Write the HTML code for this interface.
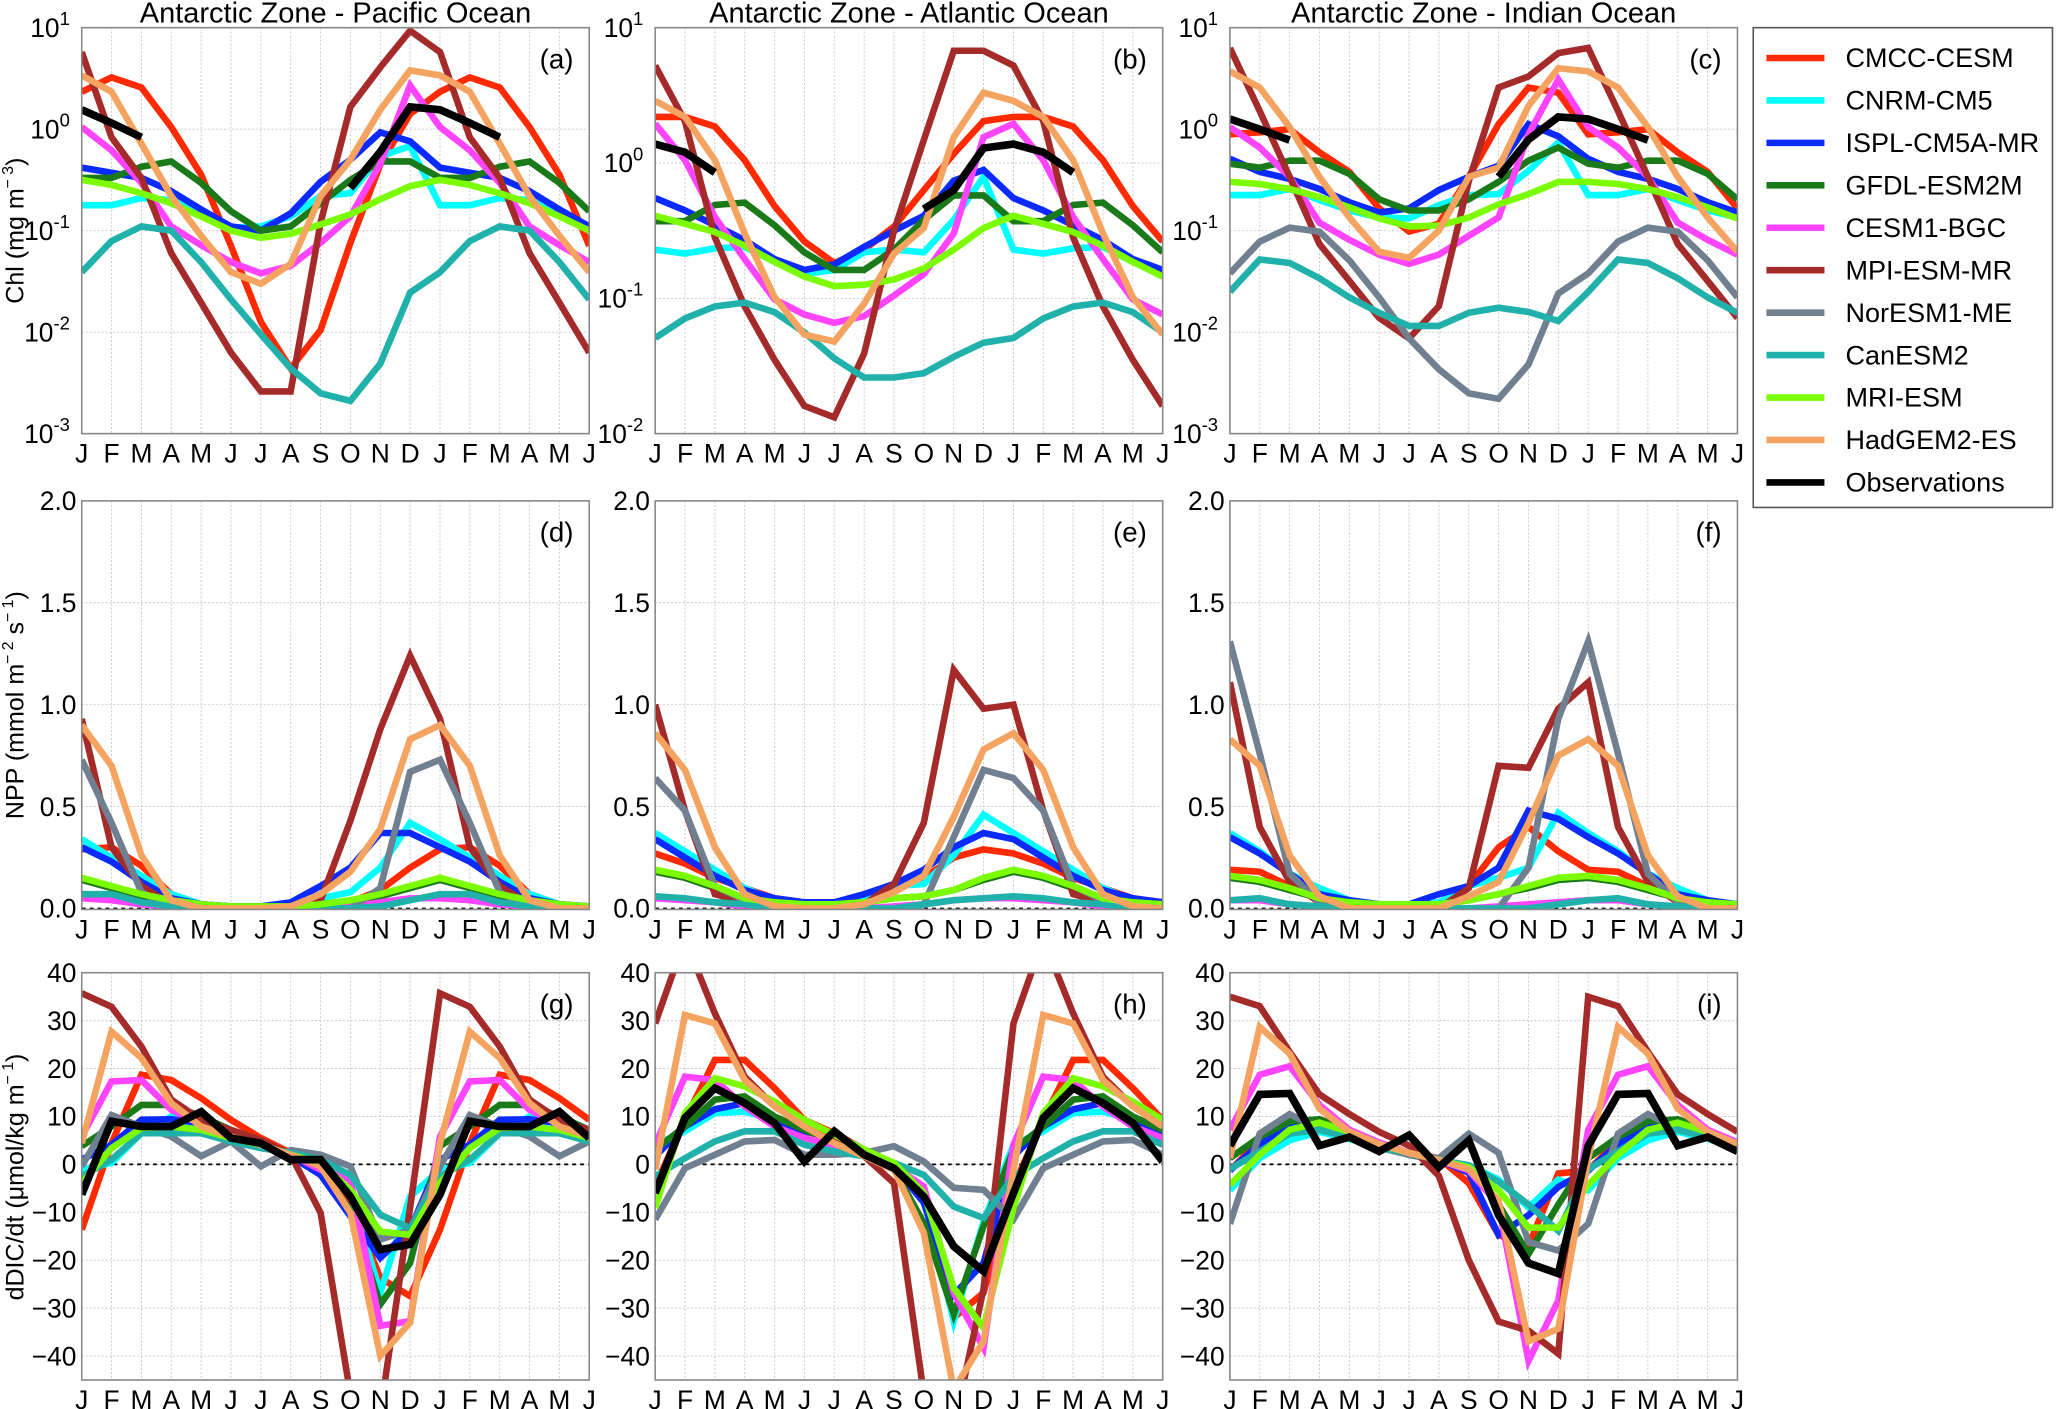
<!DOCTYPE html>
<html><head><meta charset="utf-8"><title>Antarctic Zone seasonal cycles</title>
<style>
html,body{margin:0;padding:0;background:#fff;}
svg{display:block;font-family:"Liberation Sans","DejaVu Sans",sans-serif;}
</style></head>
<body>
<svg id="fig" width="2067" height="1409" viewBox="0 0 1568 1069" preserveAspectRatio="none" xmlns="http://www.w3.org/2000/svg"></svg>
<script>
const months = ["J","F","M","A","M","J","J","A","S","O","N","D","J","F","M","A","M","J"];
const models = ["CMCC-CESM","CNRM-CM5","ISPL-CM5A-MR","GFDL-ESM2M","CESM1-BGC","MPI-ESM-MR","NorESM1-ME","CanESM2","MRI-ESM","HadGEM2-ES","Observations"];
const N = null;

// Chl (mg m-3), Jan..Dec, model order as above
const chlPacific = [
 [2.34,3.24,2.57,1.05,.355,.071,.0126,.0044,.0105,.076,.447,1.41],
 [.178,.178,.209,.2,.158,.107,.11,.138,.219,.234,.54,.68],
 [.417,.372,.331,.245,.162,.11,.1,.148,.302,.5,.93,.76],
 [.331,.331,.427,.48,.295,.155,.1,.11,.186,.316,.48,.48],
 [1.05,.62,.295,.11,.072,.049,.038,.045,.076,.138,.457,2.69],
 [5.75,.83,.331,.06,.0195,.0063,.0026,.0026,.12,1.66,4.07,9.33],
 [N,N,N,N,N,N,N,N,N,N,N,N],
 [.039,.079,.11,.1,.049,.021,.0095,.0044,.0025,.0021,.0049,.0245],
 [.316,.282,.234,.186,.138,.1,.085,.093,.115,.145,.204,.275],
 [3.39,2.34,.72,.219,.089,.039,.03,.047,.219,.5,1.55,3.8],
 [1.55,1.15,.83,N,N,N,N,N,N,.263,.6,1.66]
];
const chlAtlantic = [
 [2.19,2.19,1.86,1.05,.48,.263,.182,.229,.339,.63,1.17,2.04],
 [.229,.214,.234,.24,.186,.151,.162,.219,.229,.219,.38,.79],
 [.55,.447,.347,.269,.195,.162,.178,.24,.316,.407,.74,.89],
 [.372,.372,.49,.51,.347,.219,.162,.162,.229,.38,.575,.575],
 [1.95,1.05,.398,.195,.098,.076,.066,.074,.105,.151,.302,1.55],
 [5.25,2.04,.282,.087,.035,.016,.0132,.039,.316,1.48,6.76,6.76],
 [N,N,N,N,N,N,N,N,N,N,N,N],
 [.051,.071,.087,.093,.079,.056,.036,.026,.026,.028,.037,.047],
 [.407,.355,.309,.245,.186,.145,.123,.126,.138,.166,.229,.331],
 [2.88,2.19,1.05,.302,.102,.054,.048,.091,.214,.331,1.55,3.31],
 [1.38,1.2,.85,N,N,N,N,N,N,.457,.63,1.29]
];
const chlIndian = [
 [.89,.93,1.0,.59,.38,.166,.098,.117,.339,1.12,2.57,2.29],
 [.224,.224,.257,.2,.158,.135,.132,.178,.224,.229,.389,.74],
 [.51,.38,.324,.257,.191,.151,.166,.251,.339,.437,1.12,.85],
 [.457,.417,.49,.49,.363,.204,.158,.158,.204,.302,.49,.66],
 [1.05,.66,.339,.12,.081,.058,.047,.058,.089,.135,.89,3.09],
 [6.31,1.51,.339,.074,.032,.0138,.0087,.018,.309,2.57,3.31,5.62],
 [.038,.078,.107,.098,.051,.022,.0087,.0043,.0025,.0022,.0048,.024],
 [.025,.052,.048,.034,.022,.0155,.0115,.0115,.0155,.0174,.0158,.0129],
 [.302,.288,.257,.214,.17,.132,.11,.112,.135,.182,.229,.302],
 [3.72,2.57,1.05,.339,.135,.062,.054,.1,.339,.417,1.7,3.98],
 [1.26,1.0,.78,N,N,N,N,N,N,.339,.79,1.32]
];
// NPP (mmol m-2 s-1)
const nppPacific = [
 [.29,.30,.21,.07,.02,.01,.01,.01,.02,.03,.09,.2],
 [.34,.25,.16,.07,.02,.01,.01,.01,.05,.08,.2,.42],
 [.30,.23,.13,.05,.02,.01,.01,.03,.11,.2,.37,.37],
 [.14,.1,.06,.03,.01,.01,.01,.01,.02,.03,.06,.1],
 [.05,.04,.02,.01,0,0,0,0,0,.01,.03,.05],
 [.93,.3,.11,.02,.01,0,0,0,.04,.43,.88,1.24],
 [.73,.42,.08,0,-.05,-.1,-.1,-.1,-.05,0,.1,.67],
 [.07,.07,.03,.01,0,0,0,0,0,0,.01,.04],
 [.15,.11,.07,.04,.02,.01,.01,.01,.02,.04,.07,.11],
 [.9,.7,.26,.04,0,0,0,.01,.07,.18,.39,.83],
 [N,N,N,N,N,N,N,N,N,N,N,N]
];
const nppAtlantic = [
 [.27,.22,.15,.1,.05,.03,.02,.03,.09,.15,.25,.29],
 [.37,.28,.19,.1,.04,.03,.03,.05,.11,.12,.26,.46],
 [.34,.25,.16,.09,.05,.03,.03,.07,.12,.19,.30,.37],
 [.18,.15,.1,.05,.03,.02,.02,.03,.05,.06,.09,.14],
 [.05,.04,.03,.01,0,0,0,0,.01,.02,.04,.05],
 [1.0,.48,.07,.03,0,0,0,.02,.12,.42,1.17,.98],
 [.64,.48,.11,.04,-.05,-.1,-.1,-.1,-.05,.02,.35,.68],
 [.06,.05,.03,.02,0,0,0,0,0,.02,.04,.05],
 [.19,.16,.11,.05,.03,.02,.02,.03,.05,.06,.09,.15],
 [.86,.68,.3,.07,.01,0,0,.02,.08,.16,.45,.78],
 [N,N,N,N,N,N,N,N,N,N,N,N]
];
const nppIndian = [
 [.19,.18,.11,.05,.03,.02,.02,.02,.11,.30,.40,.28],
 [.37,.28,.17,.1,.04,.02,.02,.03,.11,.15,.2,.47],
 [.35,.27,.17,.07,.04,.02,.02,.07,.11,.2,.48,.44],
 [.15,.13,.09,.05,.03,.02,.02,.02,.04,.07,.1,.14],
 [.04,.04,.02,.01,0,0,0,0,0,.01,.02,.03],
 [1.11,.4,.13,.03,0,0,0,0,.1,.70,.69,.98],
 [1.31,.76,.17,.03,-.05,-.1,-.1,-.1,-.05,0,.2,.93],
 [.04,.05,.02,.01,0,0,0,0,0,0,0,.02],
 [.16,.14,.1,.05,.03,.02,.02,.02,.04,.07,.11,.15],
 [.83,.70,.26,.06,0,0,0,0,.06,.13,.42,.75],
 [N,N,N,N,N,N,N,N,N,N,N,N]
];
// dDIC/dt (umol/kg m-1)
const dicPacific = [
 [-13.6,4.4,18.7,17.6,13.8,9.3,5.5,2.4,.3,-8,-23.7,-27.5],
 [-1.1,.3,6.5,10,7.6,5.8,4.1,2,.3,-6,-26.8,-6.7],
 [1,4.1,9.3,9.4,8.6,5.8,4.1,1.7,-2.2,-10.8,-19.5,-13.6],
 [3.8,7.9,12.4,12.4,10,7.2,4.4,2,-.4,-9.8,-29.2,-20.6],
 [5.8,17.3,17.6,11.4,8.3,6.2,4.1,2,-1.1,-3.2,-33.7,-32.7],
 [35.7,32.9,24.6,13.5,9.3,7.2,5.1,2,-10.1,-48,-52,-9],
 [-.4,10.3,7.9,5.8,1.7,4.8,-.4,3,2,-.4,-15.7,-13.6],
 [-2.5,1,6.5,6.5,6.5,4.8,3.4,2.4,1,-2.2,-10.5,-13.3],
 [-3.9,3.4,7.6,7.9,7.2,5.5,4.1,2,.3,-5.3,-14,-14.7],
 [4.4,27.7,22.2,12.8,7.9,5.8,4.1,2,-.4,-10.1,-40,-33],
 [-6.3,9,7.9,7.9,11,5.5,4.4,1,1,-6.7,-17.8,-16.7]
];
const dicAtlantic = [
 [-4.6,9.3,21.8,21.8,15.9,9.3,6.5,3.1,-.4,-6.7,-32,-26.8],
 [4.1,6.9,10.7,11,9.3,5.8,3.8,1.7,-.4,-6.7,-32.7,-12],
 [1.7,7.9,11.5,12.8,9.3,6.5,4.1,1.7,-.4,-8,-27.2,-20.6],
 [3.1,7.9,13.5,14.2,10,7.2,4.4,1.7,-1.1,-12.2,-31.3,-12.9],
 [4.1,18.3,17.6,12.1,7.9,5.5,4.1,1.7,-.4,-4.6,-26.8,-38.3],
 [29.4,47,31.5,18.3,12.1,8.3,5.1,1.7,-3.9,-48,-55,-26],
 [-11.5,-.8,2,4.8,5.1,2,2,2.4,3.8,.6,-4.9,-5.3],
 [-2.5,1.3,4.8,6.9,6.9,4.1,2.7,1.7,.3,-2.2,-8.8,-11.2],
 [-9.1,10.7,18,16.3,13.1,9.3,6.2,3.1,.3,-6,-25.8,-34.1],
 [-1.1,31.2,29.4,17.6,12.1,7.9,4.4,1.7,-1.1,-14.3,-47,-36.9],
 [-6,9.7,15.9,12.8,8.6,.6,6.9,2,-.8,-6.7,-17.1,-22.3]
];
const dicIndian = [
 [-1.3,5,8,9.4,7.2,3.9,2.4,1.3,-3.9,-14.7,-17,-1.9],
 [-5.4,1.3,5,6.8,5.3,3.5,2,.9,-.2,-3.2,-9,-3.2],
 [-1.3,4.2,8.3,8.3,6.4,4.2,2,.9,-1.7,-14.7,-10.6,-4.7],
 [1.3,5.7,9,9.4,7.2,3.9,2,.9,-1,-8.4,-18.7,-8.4],
 [7.2,18.7,20.5,12.4,7.2,4.6,2.4,.9,-1.3,-8.4,-41,-28.4],
 [35,33,23.5,14.6,10.5,6.8,3.9,-2.4,-20,-32.8,-34.7,-39.5],
 [-12.4,6.4,10.5,7.2,5.7,3.5,2,1.3,6.4,2.4,-16.2,-18],
 [-1,2.7,6.4,7.2,5.7,3.5,2.4,.9,-.2,-3.6,-8.4,-13.9],
 [-4.3,2,7.2,8.7,6.8,4.2,2.4,.9,-.6,-5.4,-13.2,-13.2],
 [1.3,28.7,23.1,11.6,6.8,4.2,2.4,.9,-1,-7.6,-36.9,-34.3],
 [3.9,14.6,14.8,3.9,5.7,2.7,6.1,-.6,5,-10.6,-20.6,-22.8]
];
const chlTicksA = [1,0,-1,-2,-3];
const chlTicksB = [1,0,-1,-2];
const nppTicks = ["2.0","1.5","1.0","0.5","0.0"];
const dicTicks = [40,30,20,10,0,-10,-20,-30,-40];
</script>
<script>
const svg = document.getElementById('fig');
const NS = 'http://www.w3.org/2000/svg';
const colors = ["#ff2a00","#00ffff","#0a2aff","#1a7a1a","#ff44ff","#a52a2a","#708090","#20b2aa","#7cfc00","#f4a460","#000000"];
const keys = ["cmcc-cesm","cnrm-cm5","ispl-cm5a-mr","gfdl-esm2m","cesm1-bgc","mpi-esm-mr","noresm1-me","canesm2","mri-esm","hadgem2-es","observations"];
function mk(tag, attrs, parent){const e=document.createElementNS(NS,tag);for(const k in attrs)e.setAttribute(k,attrs[k]);(parent||svg).appendChild(e);return e;}

const cols=[[62,447],[497,882],[933,1318]];
const rows=[[21,329],[380,690],[738,1047]];
const titles=["Antarctic Zone - Pacific Ocean","Antarctic Zone - Atlantic Ocean","Antarctic Zone - Indian Ocean"];
const letters=[["(a)","(b)","(c)"],["(d)","(e)","(f)"],["(g)","(h)","(i)"]];
const allData=[[chlPacific,chlAtlantic,chlIndian],[nppPacific,nppAtlantic,nppIndian],[dicPacific,dicAtlantic,dicIndian]];

function panel(r,c){
  const [x0,x1]=cols[c],[y0,y1]=rows[r];
  const g=mk('g',{});
  
  
  const xs=i=>x0+(x1-x0)*i/17;
  let yf, yticks;
  if(r===0){
    const ex=(c===1)?chlTicksB:chlTicksA;
    const hi=ex[0],lo=ex[ex.length-1];
    yf=v=>y0+(hi-Math.log10(v))/(hi-lo)*(y1-y0);
    yticks=ex.map(e=>({v:Math.pow(10,e),e:e}));
  } else if(r===1){
    yf=v=>y1-(v+0.005)/(2.005)*(y1-y0);
    yticks=nppTicks.map(t=>({v:parseFloat(t),t:t}));
  } else {
    yf=v=>y1-(v+45)/85*(y1-y0);
    yticks=dicTicks.map(t=>({v:t,t:(t<0?'\u2212'+(-t):String(t))}));
  }
  for(let i=1;i<17;i++){const l=mk('line',{x1:xs(i),x2:xs(i),y1:y0,y2:y1,stroke:'#c8c8c8','stroke-width':0.7,'stroke-dasharray':'1.5,1.5'},g);}
  yticks.forEach(t=>{const y=yf(t.v);if(y>y0+1&&y<y1-1){const l=mk('line',{x1:x0,x2:x1,y1:y,y2:y,stroke:'#c8c8c8','stroke-width':0.7,'stroke-dasharray':'1.5,1.5'},g);}});
  if(r>0){const z=mk('line',{x1:x0,x2:x1,y1:yf(0),y2:yf(0),stroke:'#000','stroke-width':1.3,'stroke-dasharray':'3,3'},g);}
  yticks.forEach(t=>{
    const y=yf(t.v);
    if(r===0){
      const tx=mk('text',{x:x0-9,y:y+7,'font-size':20,'text-anchor':'end',fill:'#000'},g);
      
      tx.appendChild(document.createTextNode('10'));
      const sp=mk('tspan',{'font-size':14,dy:-9},tx);sp.textContent=String(t.e);
    } else {
      const tx=mk('text',{x:x0-4,y:y+7,'font-size':20,'text-anchor':'end',fill:'#000'},g);
      
      tx.textContent=t.t;
    }
  });
  months.forEach((m,i)=>{const tx=mk('text',{x:xs(i),y:y1+22,'font-size':20,'text-anchor':'middle',fill:'#000'},g);tx.textContent=m;});
  const cid='clip'+r+c;
  const cp=mk('clipPath',{id:cid},g);mk('rect',{x:x0,y:y0,width:x1-x0,height:y1-y0},cp);
  const sg=mk('g',{'clip-path':'url(#'+cid+')'},g);
  const data=allData[r][c];
  data.forEach((arr,si)=>{
    let segs=[],cur=[];
    for(let i=0;i<18;i++){const v=arr[i%12];if(v===null){if(cur.length)segs.push(cur);cur=[];}else cur.push([xs(i),yf(v)]);}
    if(cur.length)segs.push(cur);
    segs.forEach(s=>{if(s.length<2)return;
      const p=mk('polyline',{points:s.map(q=>q[0].toFixed(1)+','+q[1].toFixed(1)).join(' '),fill:'none',stroke:colors[si],'stroke-width':si===10?5.8:5,'stroke-linejoin':'miter','stroke-linecap':'butt'},sg);
      
      
    });
  });
  const fr=mk('rect',{x:x0,y:y0,width:x1-x0,height:y1-y0,fill:'none',stroke:'#888','stroke-width':1.2},g);
  
  const lb=mk('text',{x:x1-12,y:y0+31,'font-size':21,'text-anchor':'end',fill:'#000'},g);
  
  lb.textContent=letters[r][c];
}
for(let r=0;r<3;r++)for(let c=0;c<3;c++)panel(r,c);

titles.forEach((t,c)=>{const tx=mk('text',{x:(cols[c][0]+cols[c][1])/2,y:17,'font-size':22,'text-anchor':'middle',fill:'#000'});tx.textContent=t;});

function ylab(cy,parts){
  const tx=mk('text',{x:0,y:0,'font-size':19,'text-anchor':'middle',fill:'#000',transform:'translate(18,'+cy+') rotate(-90)'});
  
  parts.forEach(p=>{const s=mk('tspan',p[1]?{'font-size':12,dy:p[1]}:{dy:p[2]||0},tx);s.textContent=p[0];});
}
ylab(175,[["Chl (mg m"],["\u2212 3",-8],[")",0,8]]);
ylab(535,[["NPP (mmol m"],["\u2212 2",-8],["  s",0,8],["\u2212 1",-8],[")",0,8]]);
ylab(893,[["dDIC/dt (\u03bcmol/kg m"],["\u2212 1",-8],[")",0,8]]);

const lg=mk('g',{});


mk('rect',{x:1330,y:21,width:227,height:364,fill:'#fff',stroke:'#555','stroke-width':1.2},lg);
models.forEach((m,i)=>{
  const y=44+i*32.2;
  const e=mk('g',{},lg);
  
  
  mk('line',{x1:1340,x2:1384,y1:y,y2:y,stroke:colors[i],'stroke-width':5},e);
  const t=mk('text',{x:1400,y:y+7,'font-size':20.5,fill:'#000'},e);t.textContent=m;
});
</script>
</body></html>
